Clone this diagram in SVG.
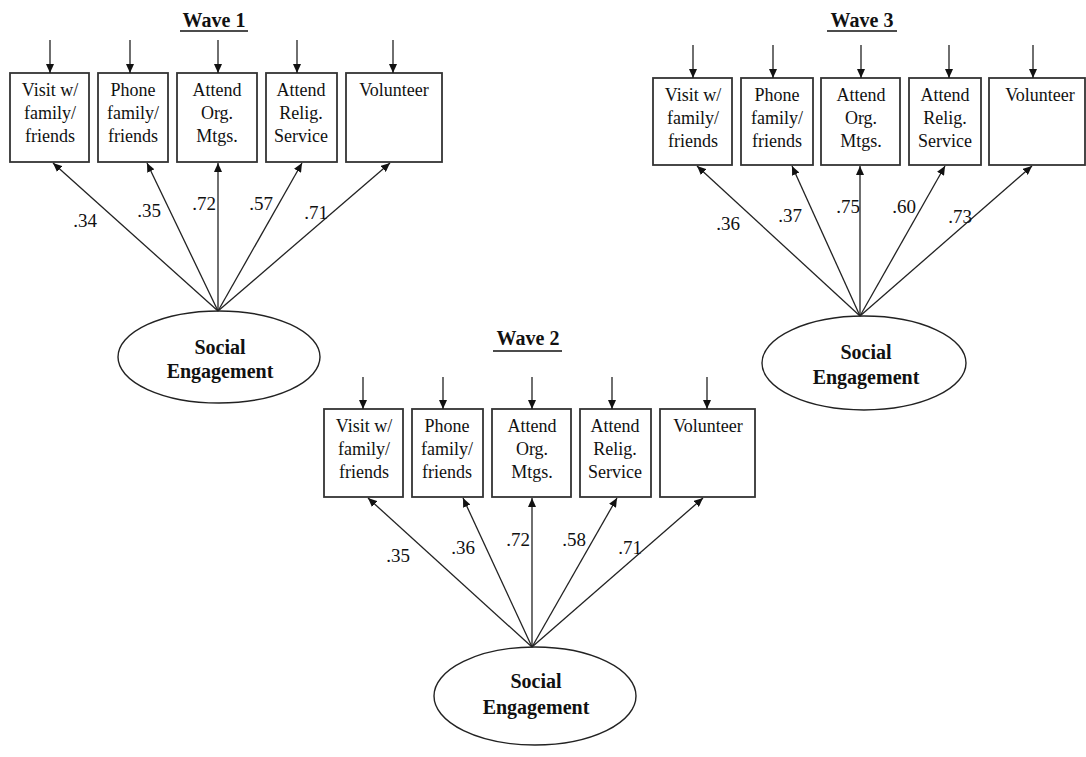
<svg xmlns="http://www.w3.org/2000/svg" width="1086" height="757" viewBox="0 0 1086 757">
  <style>
    .box { fill: #fff; stroke: #333; stroke-width: 1.8; }
    .lat { fill: #fff; stroke: #222; stroke-width: 1.4; }
    .lbl { font-family: "Liberation Serif", "Times New Roman", serif; font-size: 18px; fill: #111; text-anchor: middle; }
    .num { font-family: "Liberation Serif", "Times New Roman", serif; font-size: 19px; fill: #111; text-anchor: middle; }
    .ttl { font-family: "Liberation Serif", "Times New Roman", serif; font-size: 20px; font-weight: bold; fill: #111; text-anchor: middle; }
    .lv { font-family: "Liberation Serif", "Times New Roman", serif; font-size: 20px; font-weight: bold; fill: #111; text-anchor: middle; }
    .edge { stroke: #222; stroke-width: 1.3; fill: none; marker-end: url(#arr); }
    .uline { stroke: #111; stroke-width: 1.6; }
  </style>
  <defs>
    <marker id="arr" markerUnits="userSpaceOnUse" markerWidth="10" markerHeight="8" refX="9" refY="4" orient="auto">
      <path d="M0,0 L9,4 L0,8 z" fill="#111"/>
    </marker>
  </defs>
  <rect width="1086" height="757" fill="#fff"/>

  <!-- Wave 1 -->
  <g id="wave1-title">
    <text class="ttl" x="214" y="27">Wave 1</text>
    <line class="uline" x1="180" y1="31" x2="248" y2="31"/>
  </g>
  <g id="w1-visit">
    <rect class="box" x="10" y="73" width="79" height="89"/>
    <text class="lbl" x="50" y="96">Visit w/</text>
    <text class="lbl" x="50" y="119">family/</text>
    <text class="lbl" x="50" y="142">friends</text>
  </g>
  <g id="w1-phone">
    <rect class="box" x="98" y="73" width="70" height="89"/>
    <text class="lbl" x="133" y="96">Phone</text>
    <text class="lbl" x="133" y="119">family/</text>
    <text class="lbl" x="133" y="142">friends</text>
  </g>
  <g id="w1-org">
    <rect class="box" x="177" y="73" width="80" height="89"/>
    <text class="lbl" x="217" y="96">Attend</text>
    <text class="lbl" x="217" y="119">Org.</text>
    <text class="lbl" x="217" y="142">Mtgs.</text>
  </g>
  <g id="w1-relig">
    <rect class="box" x="266" y="73" width="71" height="89"/>
    <text class="lbl" x="301" y="96">Attend</text>
    <text class="lbl" x="301" y="119">Relig.</text>
    <text class="lbl" x="301" y="142">Service</text>
  </g>
  <g id="w1-vol">
    <rect class="box" x="346" y="73" width="96" height="89"/>
    <text class="lbl" x="394" y="96">Volunteer</text>
  </g>
  <g id="w1-latent">
    <ellipse class="lat" cx="219" cy="357" rx="101" ry="46"/>
    <text class="lv" x="220" y="354">Social</text>
    <text class="lv" x="220" y="378">Engagement</text>
  </g>

  <!-- Wave 3 -->
  <g id="wave3-title">
    <text class="ttl" x="862" y="27">Wave 3</text>
    <line class="uline" x1="827" y1="31" x2="897" y2="31"/>
  </g>
  <g id="w3-visit">
    <rect class="box" x="653" y="78" width="79" height="87"/>
    <text class="lbl" x="693" y="101">Visit w/</text>
    <text class="lbl" x="693" y="124">family/</text>
    <text class="lbl" x="693" y="147">friends</text>
  </g>
  <g id="w3-phone">
    <rect class="box" x="741" y="78" width="72" height="87"/>
    <text class="lbl" x="777" y="101">Phone</text>
    <text class="lbl" x="777" y="124">family/</text>
    <text class="lbl" x="777" y="147">friends</text>
  </g>
  <g id="w3-org">
    <rect class="box" x="821" y="78" width="79" height="87"/>
    <text class="lbl" x="861" y="101">Attend</text>
    <text class="lbl" x="861" y="124">Org.</text>
    <text class="lbl" x="861" y="147">Mtgs.</text>
  </g>
  <g id="w3-relig">
    <rect class="box" x="909" y="78" width="72" height="87"/>
    <text class="lbl" x="945" y="101">Attend</text>
    <text class="lbl" x="945" y="124">Relig.</text>
    <text class="lbl" x="945" y="147">Service</text>
  </g>
  <g id="w3-vol">
    <rect class="box" x="989" y="78" width="96" height="87"/>
    <text class="lbl" x="1040" y="101">Volunteer</text>
  </g>
  <g id="w3-latent">
    <ellipse class="lat" cx="864" cy="363" rx="102" ry="47"/>
    <text class="lv" x="866" y="359">Social</text>
    <text class="lv" x="866" y="384">Engagement</text>
  </g>

  <!-- Wave 2 -->
  <g id="wave2-title">
    <text class="ttl" x="528" y="345">Wave 2</text>
    <line class="uline" x1="493" y1="351" x2="562" y2="351"/>
  </g>
  <g id="w2-visit">
    <rect class="box" x="324" y="409" width="79" height="88"/>
    <text class="lbl" x="364" y="432">Visit w/</text>
    <text class="lbl" x="364" y="455">family/</text>
    <text class="lbl" x="364" y="478">friends</text>
  </g>
  <g id="w2-phone">
    <rect class="box" x="412" y="409" width="71" height="88"/>
    <text class="lbl" x="447" y="432">Phone</text>
    <text class="lbl" x="447" y="455">family/</text>
    <text class="lbl" x="447" y="478">friends</text>
  </g>
  <g id="w2-org">
    <rect class="box" x="492" y="409" width="79" height="88"/>
    <text class="lbl" x="532" y="432">Attend</text>
    <text class="lbl" x="532" y="455">Org.</text>
    <text class="lbl" x="532" y="478">Mtgs.</text>
  </g>
  <g id="w2-relig">
    <rect class="box" x="580" y="409" width="71" height="88"/>
    <text class="lbl" x="615" y="432">Attend</text>
    <text class="lbl" x="615" y="455">Relig.</text>
    <text class="lbl" x="615" y="478">Service</text>
  </g>
  <g id="w2-vol">
    <rect class="box" x="660" y="409" width="95" height="88"/>
    <text class="lbl" x="708" y="432">Volunteer</text>
  </g>
  <g id="w2-latent">
    <ellipse class="lat" cx="535" cy="696" rx="101" ry="49"/>
    <text class="lv" x="536" y="688">Social</text>
    <text class="lv" x="536" y="714">Engagement</text>
  </g>

  <!-- Connectors: error terms and loadings -->
  <g id="connectors">
    <!-- wave 1 error arrows -->
    <line class="edge" x1="50" y1="40" x2="50" y2="73"/>
    <line class="edge" x1="130" y1="40" x2="130" y2="73"/>
    <line class="edge" x1="218" y1="40" x2="218" y2="73"/>
    <line class="edge" x1="297" y1="40" x2="297" y2="73"/>
    <line class="edge" x1="393" y1="40" x2="393" y2="73"/>
    <!-- wave 1 loadings -->
    <line class="edge" x1="218" y1="311" x2="53" y2="163"/>
    <line class="edge" x1="218" y1="311" x2="147" y2="163"/>
    <line class="edge" x1="218" y1="311" x2="218" y2="163"/>
    <line class="edge" x1="218" y1="311" x2="302" y2="163"/>
    <line class="edge" x1="218" y1="311" x2="390" y2="163"/>

    <!-- wave 3 error arrows -->
    <line class="edge" x1="693" y1="45" x2="693" y2="78"/>
    <line class="edge" x1="773" y1="45" x2="773" y2="78"/>
    <line class="edge" x1="861" y1="45" x2="861" y2="78"/>
    <line class="edge" x1="949" y1="45" x2="949" y2="78"/>
    <line class="edge" x1="1033" y1="45" x2="1033" y2="78"/>
    <!-- wave 3 loadings -->
    <line class="edge" x1="860" y1="316" x2="697" y2="166"/>
    <line class="edge" x1="860" y1="316" x2="792" y2="166"/>
    <line class="edge" x1="860" y1="316" x2="860" y2="166"/>
    <line class="edge" x1="860" y1="316" x2="945" y2="166"/>
    <line class="edge" x1="860" y1="316" x2="1032" y2="166"/>

    <!-- wave 2 error arrows -->
    <line class="edge" x1="363" y1="377" x2="363" y2="409"/>
    <line class="edge" x1="443" y1="377" x2="443" y2="409"/>
    <line class="edge" x1="532" y1="377" x2="532" y2="409"/>
    <line class="edge" x1="612" y1="377" x2="612" y2="409"/>
    <line class="edge" x1="707" y1="377" x2="707" y2="409"/>
    <!-- wave 2 loadings -->
    <line class="edge" x1="532" y1="647" x2="368" y2="498"/>
    <line class="edge" x1="532" y1="647" x2="463" y2="498"/>
    <line class="edge" x1="532" y1="647" x2="532" y2="498"/>
    <line class="edge" x1="532" y1="647" x2="617" y2="498"/>
    <line class="edge" x1="532" y1="647" x2="703" y2="498"/>
  </g>

  <!-- loading values -->
  <g id="loadings">
    <text class="num" x="85" y="227">.34</text>
    <text class="num" x="149" y="217">.35</text>
    <text class="num" x="204" y="210">.72</text>
    <text class="num" x="261" y="210">.57</text>
    <text class="num" x="316" y="219">.71</text>

    <text class="num" x="728" y="230">.36</text>
    <text class="num" x="790" y="222">.37</text>
    <text class="num" x="848" y="213">.75</text>
    <text class="num" x="904" y="213">.60</text>
    <text class="num" x="960" y="223">.73</text>

    <text class="num" x="398" y="562">.35</text>
    <text class="num" x="463" y="554">.36</text>
    <text class="num" x="518" y="546">.72</text>
    <text class="num" x="574" y="546">.58</text>
    <text class="num" x="630" y="554">.71</text>
  </g>
</svg>
